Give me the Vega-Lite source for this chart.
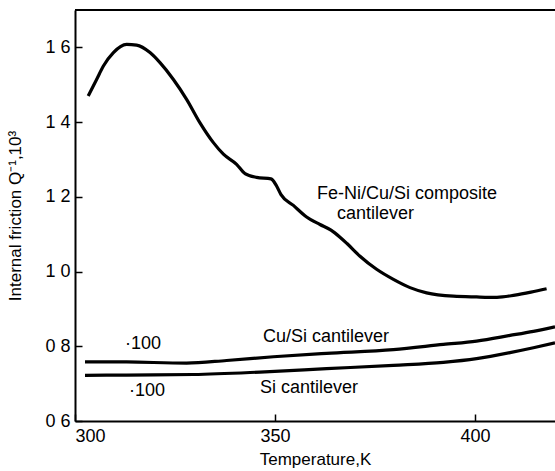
{
  "$schema": "https://vega.github.io/schema/vega-lite/v6.json",
  "width": 480,
  "height": 411,
  "autosize": {"type": "none"},
  "padding": {"left": 75, "top": 10, "right": 0, "bottom": 50},
  "background": "white",
  "config": {
    "view": {"stroke": null},
    "font": "Liberation Sans",
    "axis": {
      "grid": false,
      "domainColor": "black",
      "domainWidth": 2,
      "tickColor": "black",
      "tickWidth": 1.5,
      "tickSize": -7,
      "labelColor": "black",
      "labelFontSize": 18,
      "titleColor": "black",
      "titleFontSize": 17,
      "titleFontWeight": "normal"
    }
  },
  "datasets": {
    "curves": [
      {"series": "FeNi", "T": 303.3, "Q": 1.470},
      {"series": "FeNi", "T": 305.4, "Q": 1.514},
      {"series": "FeNi", "T": 307.1, "Q": 1.550},
      {"series": "FeNi", "T": 309.6, "Q": 1.586},
      {"series": "FeNi", "T": 312.9, "Q": 1.608},
      {"series": "FeNi", "T": 315.4, "Q": 1.606},
      {"series": "FeNi", "T": 318.75, "Q": 1.586},
      {"series": "FeNi", "T": 321.25, "Q": 1.559},
      {"series": "FeNi", "T": 324.6, "Q": 1.514},
      {"series": "FeNi", "T": 327.9, "Q": 1.461},
      {"series": "FeNi", "T": 331.25, "Q": 1.398},
      {"series": "FeNi", "T": 334.6, "Q": 1.345},
      {"series": "FeNi", "T": 337.1, "Q": 1.314},
      {"series": "FeNi", "T": 340.4, "Q": 1.287},
      {"series": "FeNi", "T": 342.5, "Q": 1.262},
      {"series": "FeNi", "T": 345.4, "Q": 1.252},
      {"series": "FeNi", "T": 349.0, "Q": 1.248},
      {"series": "FeNi", "T": 350.4, "Q": 1.229},
      {"series": "FeNi", "T": 351.5, "Q": 1.206},
      {"series": "FeNi", "T": 354.6, "Q": 1.177},
      {"series": "FeNi", "T": 357.9, "Q": 1.146},
      {"series": "FeNi", "T": 361.25, "Q": 1.126},
      {"series": "FeNi", "T": 364.0, "Q": 1.111},
      {"series": "FeNi", "T": 366.25, "Q": 1.092},
      {"series": "FeNi", "T": 368.0, "Q": 1.075},
      {"series": "FeNi", "T": 371.25, "Q": 1.041},
      {"series": "FeNi", "T": 375.4, "Q": 1.006},
      {"series": "FeNi", "T": 379.6, "Q": 0.979},
      {"series": "FeNi", "T": 383.75, "Q": 0.957},
      {"series": "FeNi", "T": 387.9, "Q": 0.943},
      {"series": "FeNi", "T": 394.6, "Q": 0.934},
      {"series": "FeNi", "T": 400.4, "Q": 0.932},
      {"series": "FeNi", "T": 405.5, "Q": 0.931},
      {"series": "FeNi", "T": 410.0, "Q": 0.937},
      {"series": "FeNi", "T": 414.0, "Q": 0.945},
      {"series": "FeNi", "T": 417.9, "Q": 0.954},
      {"series": "CuSi", "T": 302.5, "Q": 0.7585},
      {"series": "CuSi", "T": 312.9, "Q": 0.758},
      {"series": "CuSi", "T": 327.9, "Q": 0.755},
      {"series": "CuSi", "T": 337.9, "Q": 0.762},
      {"series": "CuSi", "T": 349.6, "Q": 0.772},
      {"series": "CuSi", "T": 362.9, "Q": 0.781},
      {"series": "CuSi", "T": 379.6, "Q": 0.791},
      {"series": "CuSi", "T": 392.1, "Q": 0.805},
      {"series": "CuSi", "T": 400.4, "Q": 0.814},
      {"series": "CuSi", "T": 408.75, "Q": 0.829},
      {"series": "CuSi", "T": 414.6, "Q": 0.840},
      {"series": "CuSi", "T": 420, "Q": 0.852},
      {"series": "Si", "T": 302.5, "Q": 0.722},
      {"series": "Si", "T": 312.9, "Q": 0.723},
      {"series": "Si", "T": 329.6, "Q": 0.7245},
      {"series": "Si", "T": 346.25, "Q": 0.731},
      {"series": "Si", "T": 362.9, "Q": 0.740},
      {"series": "Si", "T": 379.6, "Q": 0.749},
      {"series": "Si", "T": 392.1, "Q": 0.757},
      {"series": "Si", "T": 400.4, "Q": 0.767},
      {"series": "Si", "T": 408.75, "Q": 0.783},
      {"series": "Si", "T": 414.6, "Q": 0.796},
      {"series": "Si", "T": 420, "Q": 0.809}
    ],
    "labels": [
      {"text": "Fe-Ni/Cu/Si composite", "T": 360.5, "Q": 1.208},
      {"text": "cantilever", "T": 365.5, "Q": 1.154},
      {"text": "Cu/Si cantilever", "T": 347.0, "Q": 0.824},
      {"text": "Si cantilever", "T": 346.25, "Q": 0.687},
      {"text": "·100", "T": 312.5, "Q": 0.805},
      {"text": "·100", "T": 313.5, "Q": 0.679}
    ]
  },
  "layer": [
    {
      "data": {"values": [{}]},
      "mark": {"type": "rule", "color": "black", "strokeWidth": 2},
      "encoding": {"y": {"datum": 1.7, "type": "quantitative", "scale": {"domain": [0.6, 1.7]}}}
    },
    {
      "data": {"name": "curves"},
      "mark": {"type": "line", "color": "black", "strokeWidth": 3.2, "interpolate": "monotone"},
      "encoding": {
        "x": {
          "field": "T", "type": "quantitative",
          "scale": {"domain": [300, 420], "nice": false},
          "axis": {"values": [300, 350, 400], "title": "Temperature,K", "labelPadding": 13, "titlePadding": 6}
        },
        "y": {
          "field": "Q", "type": "quantitative",
          "scale": {"domain": [0.6, 1.7], "nice": false, "zero": false},
          "axis": {
            "values": [0.6, 0.8, 1.0, 1.2, 1.4, 1.6],
            "labelExpr": "replace(format(datum.value, '.1f'), '.', ' ')",
            "title": "Internal friction Q⁻¹,10³",
            "labelPadding": 12,
            "titlePadding": 20
          }
        },
        "detail": {"field": "series"}
      }
    },
    {
      "data": {"name": "labels"},
      "mark": {"type": "text", "align": "left", "baseline": "middle", "fontSize": 18, "color": "black"},
      "encoding": {
        "x": {"field": "T", "type": "quantitative"},
        "y": {"field": "Q", "type": "quantitative"},
        "text": {"field": "text"}
      }
    }
  ]
}
